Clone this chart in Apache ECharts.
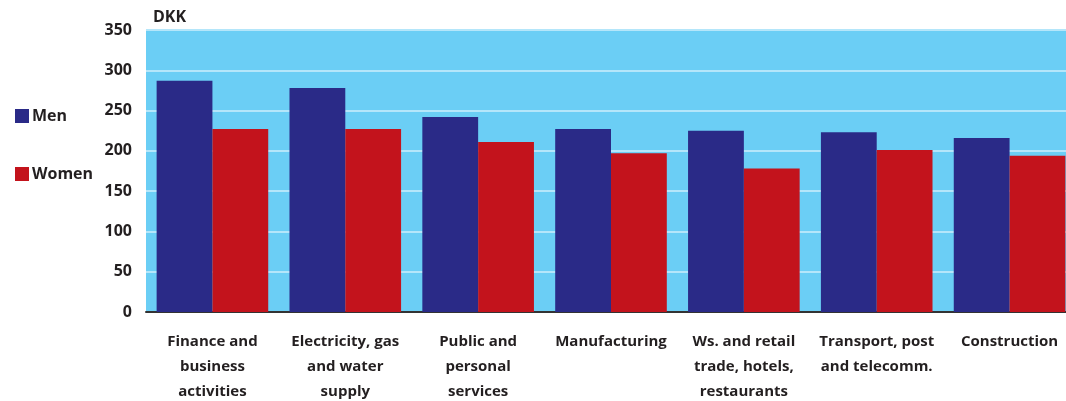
<!DOCTYPE html>
<html><head><meta charset="utf-8">
<script src="https://cdn.jsdelivr.net/npm/echarts@6/dist/echarts.min.js"></script>
<style>html,body{margin:0;padding:0;background:#fff}#c{width:1066px;height:401px}</style>
</head><body><div id="c"></div>
<script>
var categories = ["Finance and\nbusiness\nactivities","Electricity, gas\nand water\nsupply","Public and\npersonal\nservices","Manufacturing","Ws. and retail\ntrade, hotels,\nrestaurants","Transport, post\nand telecomm.","Construction"];
var men = [287, 278, 242, 227, 225, 223, 216];
var women = [227, 227, 211, 197, 178, 201, 194];
var yTicks = [0, 50, 100, 150, 200, 250, 300, 350];

var chart = echarts.init(document.getElementById('c'));
var font = '"Open Sans", "Noto Sans", sans-serif';
chart.setOption({
  animation: false,
  textStyle: {fontFamily: font},
  title: {text: 'DKK', left: 148, top: 4, textStyle: {fontSize: 16, fontWeight: 'bold', color: '#231f20', fontFamily: font}},
  legend: {
    orient: 'vertical', left: 10, top: 103, itemWidth: 14, itemHeight: 14, itemGap: 42,
    icon: 'rect',
    textStyle: {fontSize: 16, fontWeight: 'bold', color: '#231f20', padding: [0,0,0,-2]},
    data: ['Men', 'Women']
  },
  grid: {left: 146, top: 30, width: 930, height: 282, outerBoundsMode: 'none', containLabel: false,
    show: true, backgroundColor: '#6bcef5', borderWidth: 0},
  xAxis: {
    type: 'category', data: categories,
    axisLine: {lineStyle: {color: '#333', width: 2}},
    axisTick: {show: false},
    axisLabel: {interval: 0, fontSize: 15, fontWeight: 'bold', color: '#231f20', lineHeight: 25, margin: 17}
  },
  yAxis: {
    type: 'value', min: 0, max: 350, interval: 50,
    axisLine: {show: false}, axisTick: {show: false},
    axisLabel: {fontSize: 16, fontWeight: 'bold', color: '#231f20', margin: 14,
      formatter: function(v){ return yTicks.indexOf(v) >= 0 ? String(v) : ''; }},
    splitLine: {lineStyle: {color: '#b4e6fa', width: 2}}
  },
  series: [
    {name: 'Men', type: 'bar', data: men, itemStyle: {color: '#2a2a87'}, barGap: '0%', barCategoryGap: '16%'},
    {name: 'Women', type: 'bar', data: women, itemStyle: {color: '#c3131c'}, barGap: '0%', barCategoryGap: '16%'}
  ]
});
</script></body></html>
